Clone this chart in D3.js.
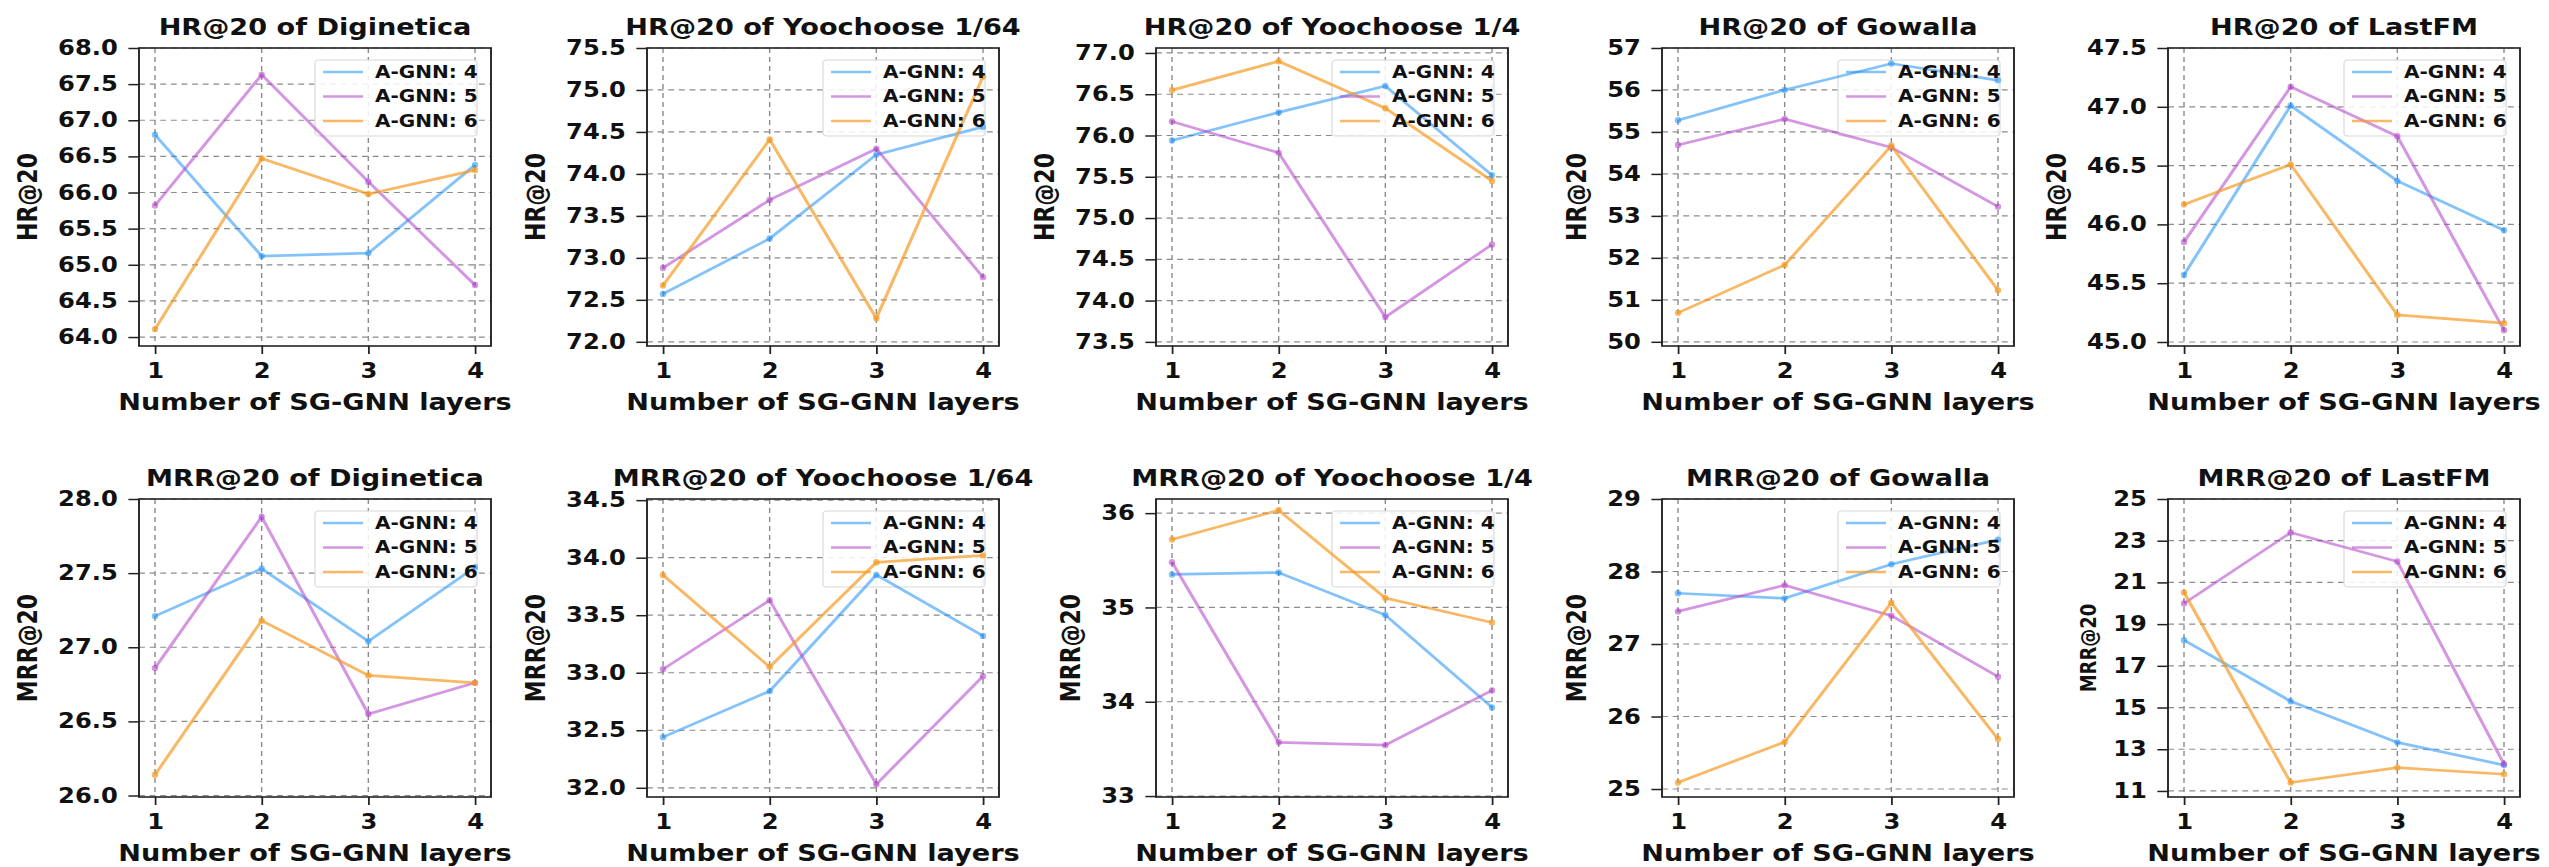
<!DOCTYPE html>
<html>
<head>
<meta charset="utf-8">
<script src="https://cdn.jsdelivr.net/npm/d3@7"></script>
<style>
  html, body { margin: 0; padding: 0; background: #fff; }
  svg text { font-family: "DejaVu Sans", sans-serif; font-weight: bold; fill: #111; }
</style>
</head>
<body>
<div id="chart"></div>
<script>
// values
const layers = [1, 2, 3, 4];
const seriesNames = ["A-GNN: 4", "A-GNN: 5", "A-GNN: 6"];
const seriesColors = ["#1f8ff5", "#b040c8", "#f59a23"];
const seriesOpacity = [0.55, 0.55, 0.7];

const panelTitles = [
    "HR@20 of Diginetica", "HR@20 of Yoochoose 1/64", "HR@20 of Yoochoose 1/4",
    "HR@20 of Gowalla", "HR@20 of LastFM",
    "MRR@20 of Diginetica", "MRR@20 of Yoochoose 1/64", "MRR@20 of Yoochoose 1/4",
    "MRR@20 of Gowalla", "MRR@20 of LastFM"
];
const yLabels = ["HR@20", "HR@20", "HR@20", "HR@20", "HR@20",
                 "MRR@20", "MRR@20", "MRR@20", "MRR@20", "MRR@20"];

// one row per series (A-GNN 4, 5, 6), one value per SG-GNN layer count
const hrDiginetica = [[66.80, 65.12, 65.16, 66.38], [65.82, 67.63, 66.15, 64.72], [64.11, 66.47, 65.98, 66.31]];
const hrYoo64      = [[72.57, 73.23, 74.23, 74.56], [72.88, 73.69, 74.30, 72.77], [72.67, 74.41, 72.28, 75.16]];
const hrYoo4       = [[75.94, 76.28, 76.60, 75.52], [76.17, 75.79, 73.80, 74.68], [76.55, 76.90, 76.33, 75.45]];
const hrGowalla    = [[55.28, 56.00, 56.63, 56.23], [54.69, 55.31, 54.63, 53.22], [50.69, 51.83, 54.67, 51.23]];
const hrLastfm     = [[45.57, 47.01, 46.37, 45.95], [45.85, 47.17, 46.75, 45.10], [46.17, 46.51, 45.23, 45.16]];
const mrrDiginetica = [[27.21, 27.53, 27.04, 27.54], [26.86, 27.88, 26.55, 26.76], [26.14, 27.18, 26.81, 26.76]];
const mrrYoo64      = [[32.44, 32.84, 33.85, 33.32], [33.03, 33.63, 32.03, 32.97], [33.85, 33.05, 33.96, 34.02]];
const mrrYoo4       = [[35.35, 35.37, 34.92, 33.94], [35.48, 33.57, 33.54, 34.12], [35.72, 36.03, 35.10, 34.84]];
const mrrGowalla    = [[27.70, 27.63, 28.10, 28.44], [27.45, 27.81, 27.39, 26.55], [25.09, 25.65, 27.57, 25.69]];
const mrrLastfm     = [[18.23, 15.30, 13.33, 12.24], [19.99, 23.39, 22.00, 12.29], [20.52, 11.40, 12.12, 11.80]];

const panelValues = [hrDiginetica, hrYoo64, hrYoo4, hrGowalla, hrLastfm,
                     mrrDiginetica, mrrYoo64, mrrYoo4, mrrGowalla, mrrLastfm];

const yTicks = [
    [64.0, 64.5, 65.0, 65.5, 66.0, 66.5, 67.0, 67.5, 68.0],
    [72.0, 72.5, 73.0, 73.5, 74.0, 74.5, 75.0, 75.5],
    [73.5, 74.0, 74.5, 75.0, 75.5, 76.0, 76.5, 77.0],
    [50, 51, 52, 53, 54, 55, 56, 57],
    [45.0, 45.5, 46.0, 46.5, 47.0, 47.5],
    [26.0, 26.5, 27.0, 27.5, 28.0],
    [32.0, 32.5, 33.0, 33.5, 34.0, 34.5],
    [33, 34, 35, 36],
    [25, 26, 27, 28, 29],
    [11, 13, 15, 17, 19, 21, 23, 25]
];
const yFormats = [".1f", ".1f", ".1f", "d", ".1f", ".1f", ".1f", "d", "d", "d"];
const yDomains = [
    [63.876, 68.0], [71.95, 75.5], [73.45, 77.06], [49.9, 57.0], [44.966, 47.5],
    [25.99, 28.0], [31.92, 34.51], [32.99, 36.15], [24.89, 29.0], [10.71, 25.0]
];

// the reference is stretched horizontally, so draw in a narrower viewBox
const SX = 1.18;
const width = 2549, height = 867;
const vw = width / SX;

const colLeft = [139, 647, 1156, 1662, 2168].map(d => d / SX);
const boxW = 352 / SX;
const rowTop = [48, 499];
const boxH = 298;

const svg = d3.select("#chart")
    .append("svg")
    .attr("width", width)
    .attr("height", height)
    .attr("viewBox", `0 0 ${vw} ${height}`)
    .attr("preserveAspectRatio", "none");

panelValues.forEach((values, i) => {
    const left = colLeft[i % 5];
    const top = rowTop[Math.floor(i / 5)];
    const g = svg.append("g").attr("transform", `translate(${left},${top})`);

    const x = d3.scaleLinear().domain([0.85, 4.15]).range([0, boxW]);
    const y = d3.scaleLinear().domain(yDomains[i]).range([boxH, 0]);

    // grid
    g.append("g").selectAll("line")
        .data(yTicks[i])
        .enter().append("line")
        .attr("x1", 0).attr("x2", boxW)
        .attr("y1", d => y(d)).attr("y2", d => y(d))
        .attr("stroke", "#8c8c8c").attr("stroke-width", 1.2)
        .attr("stroke-dasharray", "5,4");
    g.append("g").selectAll("line")
        .data(layers)
        .enter().append("line")
        .attr("x1", d => x(d)).attr("x2", d => x(d))
        .attr("y1", 0).attr("y2", boxH)
        .attr("stroke", "#8c8c8c").attr("stroke-width", 1.2)
        .attr("stroke-dasharray", "5,4");

    // legend box sits under the lines, which show through it
    const legW = 162 / SX, legH = 76;
    const legX = boxW - 14 / SX - legW, legY = 12;
    g.append("rect")
        .attr("x", legX).attr("y", legY)
        .attr("width", legW).attr("height", legH).attr("rx", 3)
        .attr("fill", "#fff").attr("fill-opacity", 0.85)
        .attr("stroke", "#d8d8d8").attr("stroke-width", 1);

    // series
    const line = d3.line().x((d, k) => x(layers[k])).y(d => y(d));
    values.forEach((vals, s) => {
        g.append("path")
            .datum(vals)
            .attr("d", line)
            .attr("fill", "none")
            .attr("stroke", seriesColors[s])
            .attr("stroke-opacity", seriesOpacity[s])
            .attr("stroke-width", 2.7);
        g.append("g").selectAll("ellipse")
            .data(vals)
            .enter().append("ellipse")
            .attr("cx", (d, k) => x(layers[k]))
            .attr("cy", d => y(d))
            .attr("rx", 3.2 / SX).attr("ry", 3.2)
            .attr("fill", seriesColors[s])
            .attr("fill-opacity", seriesOpacity[s]);
    });

    const leg = g.append("g").attr("transform", `translate(${legX},${legY})`);
    seriesNames.forEach((name, s) => {
        const ly = 12 + s * 24.5;
        leg.append("line")
            .attr("x1", 8 / SX).attr("x2", 48 / SX)
            .attr("y1", ly).attr("y2", ly)
            .attr("stroke", seriesColors[s])
            .attr("stroke-opacity", seriesOpacity[s])
            .attr("stroke-width", 2.7);
        leg.append("text")
            .attr("x", 60 / SX).attr("y", ly)
            .attr("dy", "0.35em")
            .style("font-size", "17px")
            .text(name);
    });

    // axes
    const yAxis = g.append("g")
        .call(d3.axisLeft(y).tickValues(yTicks[i]).tickFormat(d3.format(yFormats[i]))
            .tickSize(9).tickPadding(9).tickSizeOuter(0));
    yAxis.select(".domain").remove();
    yAxis.selectAll("line").attr("stroke", "#222").attr("stroke-width", 1.5);
    yAxis.selectAll("text").style("font-size", "20.5px").attr("fill", "#111");

    const xAxis = g.append("g")
        .attr("transform", `translate(0,${boxH})`)
        .call(d3.axisBottom(x).tickValues(layers).tickFormat(d3.format("d"))
            .tickSize(8).tickPadding(9).tickSizeOuter(0));
    xAxis.select(".domain").remove();
    xAxis.selectAll("line").attr("stroke", "#222").attr("stroke-width", 1.5);
    xAxis.selectAll("text").style("font-size", "20.5px").attr("fill", "#111");

    // frame
    g.append("rect")
        .attr("width", boxW).attr("height", boxH)
        .attr("fill", "none").attr("stroke", "#222").attr("stroke-width", 1.6);

    // title and axis labels
    g.append("text")
        .attr("x", boxW / 2).attr("y", -13)
        .attr("text-anchor", "middle")
        .style("font-size", "23px")
        .text(panelTitles[i]);

    g.append("text")
        .attr("x", boxW / 2).attr("y", boxH + 64)
        .attr("text-anchor", "middle")
        .style("font-size", "23px")
        .text("Number of SG-GNN layers");

    const minX = d3.min(yAxis.selectAll("text").nodes(), n => n.getBBox().x);
    const labelSize = i === 9 ? 18 : 22;
    const lx = minX - labelSize * 1.16;
    g.append("text")
        .attr("transform", `translate(${lx},${boxH / 2}) rotate(-90)`)
        .attr("text-anchor", "middle")
        .attr("dy", "0.35em")
        .style("font-size", labelSize + "px")
        .text(yLabels[i]);
});
</script>
</body>
</html>
